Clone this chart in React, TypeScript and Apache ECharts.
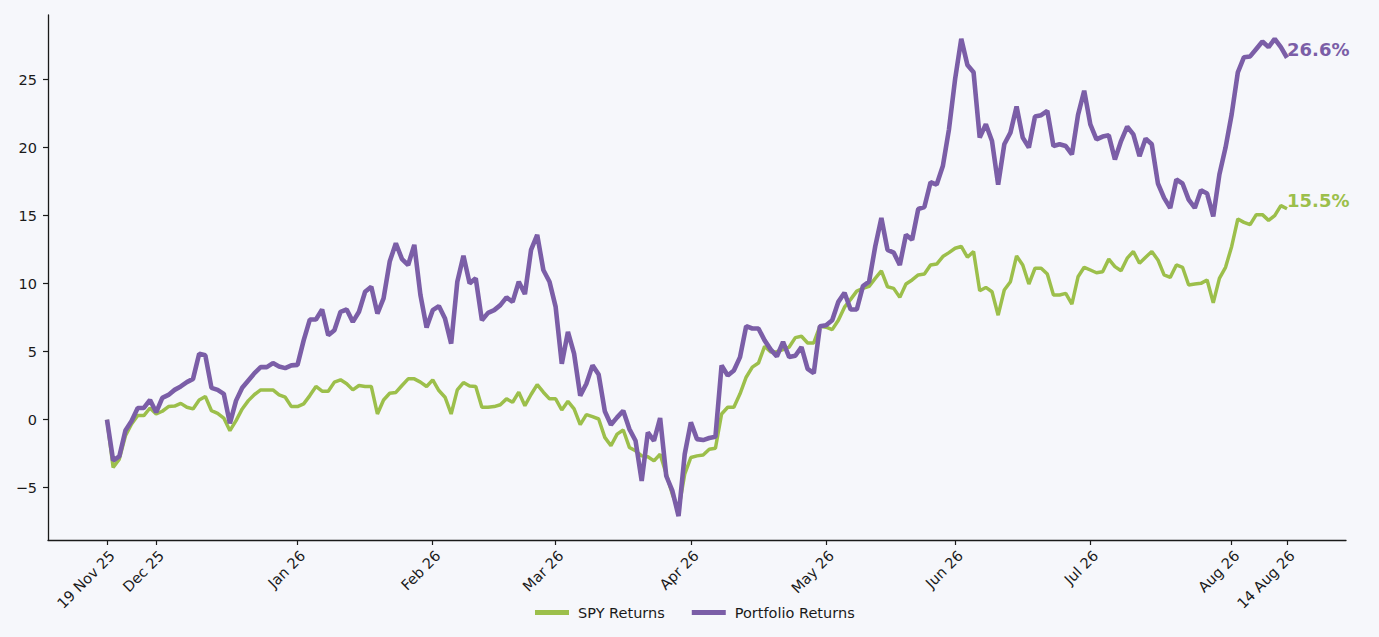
import React, { useEffect, useRef } from "react";
import * as echarts from "echarts";

// Business-day index of each tick and its label
const tickIndices = [0, 8, 31, 53, 73, 95, 117, 138, 160, 183, 192];
const tickLabels = ["19 Nov 25", "Dec 25", "Jan 26", "Feb 26", "Mar 26", "Apr 26", "May 26", "Jun 26", "Jul 26", "Aug 26", "14 Aug 26"];
const yTicks = [-5, 0, 5, 10, 15, 20, 25];

// SPY cumulative returns (%), one per business day from 19 Nov 25
const spyReturns = [
  0, -3.52, -2.9, -1.18, -0.32, 0.3, 0.3, 0.86, 0.42, 0.62,
  0.96, 1.0, 1.2, 0.91, 0.79, 1.45, 1.7, 0.66, 0.47, 0.12,
  -0.81, -0.07, 0.79, 1.4, 1.85, 2.19, 2.19, 2.19, 1.82, 1.65,
  0.96, 0.96, 1.16, 1.77, 2.44, 2.09, 2.09, 2.76, 2.93, 2.64,
  2.19, 2.51, 2.44, 2.44, 0.42, 1.45, 1.94, 2.0, 2.51, 3.0,
  3.0, 2.76, 2.44, 2.93, 2.14, 1.65, 0.42, 2.19, 2.73, 2.47,
  2.44, 0.91, 0.91, 0.96, 1.1, 1.53, 1.28, 2.02, 1.03, 1.85,
  2.58, 2.02, 1.53, 1.53, 0.71, 1.35, 0.79, -0.37, 0.37, 0.22,
  0.05, -1.3, -1.92, -1.06, -0.76, -2.04, -2.29, -2.66, -2.73, -3.03,
  -2.54, -4.0, -5.5, -6.6, -4.0, -2.78, -2.66, -2.6, -2.17, -2.1,
  0.42, 0.91, 0.91, 1.9, 3.12, 3.86, 4.16, 5.39, 4.97, 5.0,
  5.15, 5.34, 6.03, 6.13, 5.64, 5.64, 6.87, 6.8, 6.62, 7.31,
  8.27, 8.84, 9.45, 9.65, 9.8, 10.39, 10.93, 9.77, 9.65, 8.99,
  9.97, 10.27, 10.64, 10.7, 11.37, 11.44, 11.99, 12.28, 12.6, 12.73,
  11.94, 12.36, 9.48, 9.72, 9.4, 7.68, 9.53, 10.14, 12.04, 11.37,
  9.97, 11.13, 11.13, 10.7, 9.16, 9.16, 9.28, 8.49, 10.5, 11.2,
  11.0, 10.8, 10.87, 11.8, 11.25, 10.95, 11.87, 12.36, 11.5, 11.94,
  12.36, 11.74, 10.64, 10.46, 11.37, 11.2, 9.9, 9.97, 10.02, 10.27,
  8.59, 10.39, 11.2, 12.73, 14.75, 14.5, 14.33, 15.07, 15.07, 14.65,
  15.0, 15.73, 15.5,
];

// Portfolio cumulative returns (%)
const portfolioReturns = [
  0, -3.0, -2.7, -0.8, -0.1, 0.86, 0.86, 1.45, 0.54, 1.6,
  1.82, 2.19, 2.44, 2.76, 3.0, 4.85, 4.73, 2.34, 2.19, 1.9,
  -0.27, 1.4, 2.34, 2.88, 3.42, 3.86, 3.86, 4.16, 3.91, 3.79,
  3.99, 4.03, 5.83, 7.36, 7.36, 8.1, 6.2, 6.57, 7.93, 8.1,
  7.19, 7.93, 9.4, 9.77, 7.8, 8.91, 11.62, 12.97, 11.8, 11.37,
  12.85, 9.16, 6.77, 8.05, 8.35, 7.43, 5.59, 10.14, 12.04, 10.02,
  10.39, 7.31, 7.85, 8.05, 8.42, 8.99, 8.66, 10.14, 9.23, 12.48,
  13.59, 11.0, 10.14, 8.29, 4.11, 6.45, 4.85, 1.77, 2.64, 3.99,
  3.32, 0.62, -0.37, 0.17, 0.66, -0.69, -1.55, -4.5, -0.94, -1.55,
  0.12, -4.14, -5.24, -7.09, -2.54, -0.2, -1.43, -1.5, -1.35, -1.26,
  3.99, 3.25, 3.62, 4.6, 6.87, 6.7, 6.7, 5.83, 5.15, 4.65,
  5.71, 4.6, 4.7, 5.34, 3.74, 3.42, 6.87, 6.94, 7.31, 8.66,
  9.33, 8.1, 8.1, 9.82, 10.14, 12.73, 14.82, 12.48, 12.28, 11.37,
  13.59, 13.22, 15.49, 15.63, 17.45, 17.28, 18.64, 21.34, 25.04, 27.99,
  26.07, 25.53, 20.73, 21.71, 20.48, 17.28, 20.24, 21.1, 23.02, 20.73,
  20.0, 22.28, 22.38, 22.7, 20.11, 20.24, 20.11, 19.5, 22.4, 24.18,
  21.71, 20.6, 20.81, 20.9, 19.13, 20.48, 21.54, 20.97, 19.37, 20.66,
  20.24, 17.36, 16.3, 15.56, 17.65, 17.36, 16.17, 15.56, 16.86, 16.62,
  14.94, 18.02, 20.0, 22.45, 25.53, 26.64, 26.7, 27.25, 27.8, 27.38,
  27.99, 27.38, 26.6,
];

const GREEN = "#9cbf4b";
const PURPLE = "#7b5ea7";
const FONT = "DejaVu Sans";
const INK = "#1a1a1a";

export default function App() {
  const ref = useRef<HTMLDivElement>(null);

  useEffect(() => {
    if (!ref.current) return;
    const chart = echarts.init(ref.current, undefined, { renderer: "svg" });
    const n = spyReturns.length - 1;
    const pad = n * 0.05;
    const allVals = spyReturns.concat(portfolioReturns);
    const lo = Math.min(...allVals);
    const hi = Math.max(...allVals);
    const ypad = (hi - lo) * 0.05;

    const endLabel = (color: string) => ({
      show: true,
      formatter: (p: any) => p.value[1].toFixed(1) + "%",
      color,
      fontFamily: FONT,
      fontWeight: "bold",
      fontSize: 18,
      distance: 0,
      offset: [0, -8],
    });

    chart.setOption({
      animation: false,
      backgroundColor: "#f6f7fb",
      textStyle: { fontFamily: FONT },
      grid: { left: 48, right: 33, top: 15, bottom: 97 },
      legend: {
        left: 530,
        top: 600,
        icon: "rect",
        itemWidth: 34,
        itemHeight: 5,
        itemGap: 27,
        textStyle: { fontFamily: FONT, fontSize: 14.5, color: INK, padding: [0, 0, 0, 4] },
        data: ["SPY Returns", "Portfolio Returns"],
      },
      xAxis: {
        type: "value",
        min: -pad,
        max: n + pad,
        splitLine: { show: false },
        axisLine: { show: true, onZero: false, lineStyle: { color: INK, width: 1.3 } },
        axisTick: { show: true, length: 5, customValues: tickIndices, lineStyle: { color: INK, width: 1.2 } },
        axisLabel: {
          customValues: tickIndices,
          rotate: 45,
          margin: 8,
          verticalAlign: "top",
          fontSize: 14.5,
          fontFamily: FONT,
          color: INK,
          formatter: (v: number) => {
            const k = tickIndices.indexOf(Math.round(v));
            return k >= 0 ? tickLabels[k] : "";
          },
        },
      },
      yAxis: {
        type: "value",
        min: lo - ypad,
        max: hi + ypad,
        splitLine: { show: false },
        axisLine: { show: true, onZero: false, lineStyle: { color: INK, width: 1.3 } },
        axisTick: { show: true, length: 5, customValues: yTicks, lineStyle: { color: INK, width: 1.2 } },
        axisLabel: {
          customValues: yTicks,
          margin: 11,
          fontSize: 14.5,
          fontFamily: FONT,
          color: INK,
          formatter: (v: number) => (v < 0 ? "\u2212" + Math.abs(v) : String(v)),
        },
      },
      series: [
        {
          name: "SPY Returns",
          type: "line",
          data: spyReturns.map((v, i) => [i, v]),
          showSymbol: false,
          symbol: "none",
          lineStyle: { color: GREEN, width: 3.5 },
          itemStyle: { color: GREEN },
          endLabel: endLabel(GREEN),
          z: 2,
        },
        {
          name: "Portfolio Returns",
          type: "line",
          data: portfolioReturns.map((v, i) => [i, v]),
          showSymbol: false,
          symbol: "none",
          lineStyle: { color: PURPLE, width: 4.6 },
          itemStyle: { color: PURPLE },
          endLabel: endLabel(PURPLE),
          z: 3,
        },
      ],
    });
    return () => chart.dispose();
  }, []);

  return <div ref={ref} style={{ position: "fixed", left: 0, top: 0, width: "100vw", height: "100vh" }} />;
}
